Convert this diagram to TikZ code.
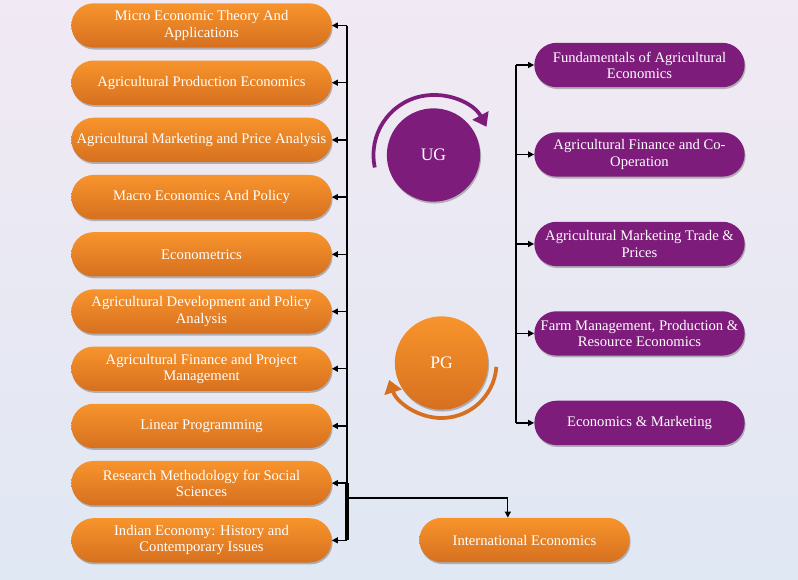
\documentclass[tikz,border=0pt]{standalone}
\usepackage{fontspec}
\setmainfont{Liberation Serif}
\usetikzlibrary{positioning,calc,arrows.meta,shadows,shapes.misc}

\definecolor{orangetop}{RGB}{248,148,44}
\definecolor{orangebot}{RGB}{214,112,32}
\definecolor{plum}{RGB}{126,28,124}
\definecolor{bgtop}{RGB}{241,233,243}
\definecolor{bgbot}{RGB}{224,232,243}

\tikzset{
  box/.style={rounded rectangle, minimum height=1.33cm, inner sep=2pt, align=center,
    text=white, font=\fontsize{12.5}{13.8}\selectfont,
    drop shadow={shadow xshift=0.8pt, shadow yshift=-1.6pt, fill=black!50, opacity=0.55}},
  obox/.style={box, minimum width=7.95cm, top color=orangetop, bottom color=orangebot},
  pbox/.style={box, minimum width=6.45cm, fill=plum},
  level/.style={circle, minimum size=2.8cm, text=white, font=\fontsize{15}{18}\selectfont,
    drop shadow={shadow xshift=0.8pt, shadow yshift=-1.6pt, fill=black!50, opacity=0.55}},
  trunk/.style={line width=1.8pt},
  stub/.style={line width=1.1pt, -{Triangle[length=5pt,width=5pt]}},
  turn/.style={line width=3.2pt, -{Triangle[length=11pt,width=15pt]}}
}

\begin{document}
\begin{tikzpicture}[x=0.03cm, y=-0.03cm]
  \useasboundingbox (0,0) rectangle (798,580);
  \shade[top color=bgtop, bottom color=bgbot] (0,0) rectangle (798,580);

  % PG courses
  \node[obox] (l1) at (201.5,25.5) {Micro Economic Theory And\\Applications};
  \node[obox, below=0.372cm of l1] (l2) {Agricultural Production Economics};
  \node[obox, below=0.372cm of l2] (l3) {Agricultural Marketing and Price Analysis};
  \node[obox, below=0.372cm of l3] (l4) {Macro Economics And Policy};
  \node[obox, below=0.372cm of l4] (l5) {Econometrics};
  \node[obox, below=0.372cm of l5] (l6) {Agricultural Development and Policy\\Analysis};
  \node[obox, below=0.372cm of l6] (l7) {Agricultural Finance and Project\\Management};
  \node[obox, below=0.372cm of l7] (l8) {Linear Programming};
  \node[obox, below=0.372cm of l8] (l9) {Research Methodology for Social\\Sciences};
  \node[obox, below=0.372cm of l9] (l10) {Indian Economy: History and\\Contemporary Issues};
  \node[obox, minimum width=6.45cm] (intl) at (524.5,540) {International Economics};

  % UG courses
  \node[pbox] (r1) at (639.5,65) {Fundamentals of Agricultural\\Economics};
  \node[pbox, below=1.34cm of r1] (r2) {Agricultural Finance and Co-\\Operation};
  \node[pbox, below=1.34cm of r2] (r3) {Agricultural Marketing Trade \&\\Prices};
  \node[pbox, below=1.34cm of r3] (r4) {Farm Management, Production \&\\Resource Economics};
  \node[pbox, below=1.34cm of r4] (r5) {Economics \& Marketing};

  % levels
  \node[level, fill=plum] (ug) at (433.5,155) {UG};
  \node[level, top color=orangetop, bottom color=orangebot] (pg) at (441.5,363) {PG};
  \draw[turn, plum] ($(ug.center)+(192:1.8cm)$) arc[start angle=192, end angle=28, radius=1.8cm];
  \draw[turn, orangebot] ($(pg.center)+(-4:1.65cm)$) arc[start angle=-4, end angle=-162, radius=1.65cm];

  % left tree
  \coordinate (lt) at ($(l1.east)+(0.45cm,0)$);
  \coordinate (lb) at (lt |- l10.east);
  \coordinate (br) at ($(l9.east)!0.26!(l10.east)$);
  \coordinate (ie) at ($(intl.north)+(-0.5cm,0)$);
  \draw[trunk] (lt) -- (lt |- l9.east);
  \draw[line width=3.6pt] (lt |- l9.east) -- (lb);
  \draw[stub] (lt) -- (l1.east);
  \draw[stub] (lt |- l2.east) -- (l2.east);
  \draw[stub] (lt |- l3.east) -- (l3.east);
  \draw[stub] (lt |- l4.east) -- (l4.east);
  \draw[stub] (lt |- l5.east) -- (l5.east);
  \draw[stub] (lt |- l6.east) -- (l6.east);
  \draw[stub] (lt |- l7.east) -- (l7.east);
  \draw[stub] (lt |- l8.east) -- (l8.east);
  \draw[stub] (lt |- l9.east) -- (l9.east);
  \draw[stub] (lb) -- (l10.east);
  \draw[stub] (br -| lt) -| (ie);

  % right tree
  \coordinate (rt) at ($(r1.west)+(-0.54cm,0)$);
  \draw[trunk] (rt) -- (rt |- r5.west);
  \draw[stub] (rt) -- (r1.west);
  \draw[stub] (rt |- r2.west) -- (r2.west);
  \draw[stub] (rt |- r3.west) -- (r3.west);
  \draw[stub] (rt |- r4.west) -- (r4.west);
  \draw[stub] (rt |- r5.west) -- (r5.west);
\end{tikzpicture}
\end{document}
